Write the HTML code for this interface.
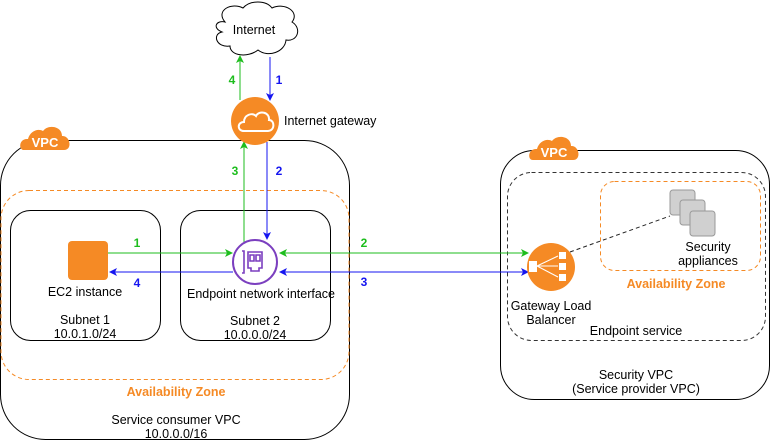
<!DOCTYPE html>
<html><head><meta charset="utf-8"><style>
html,body{margin:0;padding:0;background:#fff;}
svg{display:block;font-family:"Liberation Sans","DejaVu Sans",sans-serif;font-size:12.5px;}
</style></head><body>
<svg width="771" height="442" viewBox="0 0 771 442" xmlns="http://www.w3.org/2000/svg">
<defs>
<marker id="ag" markerWidth="8" markerHeight="8" refX="7" refY="4" orient="auto" markerUnits="userSpaceOnUse"><path d="M0,0 L8,4 L0,8 L2,4 z" fill="#1dbd1d"/></marker>
<marker id="ab" markerWidth="8" markerHeight="8" refX="7" refY="4" orient="auto" markerUnits="userSpaceOnUse"><path d="M0,0 L8,4 L0,8 L2,4 z" fill="#1515f0"/></marker>
</defs>

<path d="M225,22 C215,10 232,2 243,8 C250,0 266,0 272,8 C285,2 300,12 292,22 C302,28 298,42 286,40 C285,52 268,58 258,50 C248,58 230,56 230,46 C216,48 212,34 222,32 C212,28 216,20 225,22 z" fill="#fff" stroke="#000" stroke-width="1"/>
<text x="254" y="34" text-anchor="middle">Internet</text>

<rect x="0.5" y="140.5" width="349" height="299" rx="45" fill="none" stroke="#000"/>
<rect x="1" y="190.5" width="348" height="189" rx="28" fill="none" stroke="#f58a25" stroke-dasharray="4,3"/>
<rect x="10.5" y="210.5" width="150" height="130" rx="20" fill="none" stroke="#000"/>
<rect x="180.5" y="210.5" width="150" height="130" rx="20" fill="none" stroke="#000"/>

<rect x="500.5" y="150.5" width="269" height="249" rx="34" fill="#fff" stroke="#000"/>
<rect x="507.5" y="172.5" width="258" height="168" rx="24" fill="none" stroke="#333" stroke-dasharray="4,3"/>
<rect x="600.5" y="181.5" width="160" height="89" rx="14" fill="none" stroke="#f58a25" stroke-dasharray="4,3"/>

<g fill="#f58a25">
<path d="M24,150 C18,150 19,138 28,139 C30,131 38,128 43,131 C48,124 62,126 62,136 C70,135 73,150 64,150 z"/>
<path d="M533,160 C527,160 528,148 537,149 C539,141 547,138 552,141 C557,134 571,136 571,146 C579,145 582,160 573,160 z"/>
</g>
<text x="45" y="147" text-anchor="middle" fill="#fff" font-weight="bold" font-size="13">VPC</text>
<text x="554" y="157" text-anchor="middle" fill="#fff" font-weight="bold" font-size="13">VPC</text>

<line x1="240" y1="100" x2="240" y2="56" stroke="#1dbd1d" marker-end="url(#ag)"/>
<line x1="270" y1="57" x2="270" y2="100" stroke="#1515f0" marker-end="url(#ab)"/>
<line x1="244" y1="244" x2="244" y2="142" stroke="#1dbd1d" marker-end="url(#ag)"/>
<line x1="267" y1="142" x2="267" y2="239" stroke="#1515f0" marker-end="url(#ab)"/>
<line x1="108" y1="253" x2="232" y2="253" stroke="#1dbd1d" marker-end="url(#ag)"/>
<line x1="233" y1="272" x2="110" y2="272" stroke="#1515f0" marker-end="url(#ab)"/>
<line x1="400" y1="253" x2="280" y2="253" stroke="#1dbd1d" marker-end="url(#ag)"/>
<line x1="400" y1="253" x2="528" y2="253" stroke="#1dbd1d" marker-end="url(#ag)"/>
<line x1="400" y1="272" x2="280" y2="272" stroke="#1515f0" marker-end="url(#ab)"/>
<line x1="400" y1="272" x2="528" y2="272" stroke="#1515f0" marker-end="url(#ab)"/>
<line x1="570" y1="252" x2="670" y2="216" stroke="#222" stroke-dasharray="4,3"/>

<g font-weight="bold" font-size="12">
<text x="232" y="84" fill="#1dbd1d" text-anchor="middle">4</text>
<text x="279" y="84" fill="#1515f0" text-anchor="middle">1</text>
<text x="235" y="175" fill="#1dbd1d" text-anchor="middle">3</text>
<text x="279" y="175" fill="#1515f0" text-anchor="middle">2</text>
<text x="137" y="247" fill="#1dbd1d" text-anchor="middle">1</text>
<text x="137" y="287" fill="#1515f0" text-anchor="middle">4</text>
<text x="364" y="247" fill="#1dbd1d" text-anchor="middle">2</text>
<text x="364" y="286" fill="#1515f0" text-anchor="middle">3</text>
</g>

<circle cx="255" cy="121" r="24" fill="#f58a25"/>
<path d="M244,131 C237,131 237,122 244,122 C244,115 252,112 256,116 C259,110 270,112 269,120 C275,120 275,131 268,131 z" fill="none" stroke="#fff" stroke-width="2"/>
<text x="284" y="125">Internet gateway</text>

<rect x="68" y="241" width="40" height="39" rx="4" fill="#f58a25"/>
<text x="85" y="296" text-anchor="middle">EC2 instance</text>

<circle cx="255" cy="262" r="22" fill="#fff" stroke="#7b3fbf" stroke-width="2"/>
<path d="M242,251 h2 v22 h-2 M248,252 h14 v16 h-3 v3 h-8 v-3 h-3 z M250,255 h4 v6 h-4 z M256,255 h4 v6 h-4 z" fill="none" stroke="#7b3fbf" stroke-width="1.6"/>
<text x="261" y="298" text-anchor="middle">Endpoint network interface</text>

<text x="85" y="324" text-anchor="middle">Subnet 1</text>
<text x="85" y="338" text-anchor="middle">10.0.1.0/24</text>
<text x="255" y="325" text-anchor="middle">Subnet 2</text>
<text x="255" y="339" text-anchor="middle">10.0.0.0/24</text>
<text x="176" y="396" text-anchor="middle" fill="#f58a25" font-weight="bold">Availability Zone</text>
<text x="176" y="424" text-anchor="middle">Service consumer VPC</text>
<text x="176" y="438" text-anchor="middle">10.0.0.0/16</text>

<circle cx="551" cy="267" r="24" fill="#f58a25"/>
<g fill="#fff" stroke="#fff">
<rect x="529" y="261" width="8" height="11" stroke="none"/>
<rect x="559" y="252" width="7" height="7" stroke="none"/>
<rect x="559" y="263" width="7" height="7" stroke="none"/>
<rect x="559" y="274" width="7" height="7" stroke="none"/>
<line x1="537" y1="266" x2="558" y2="256"/>
<line x1="537" y1="266" x2="558" y2="266"/>
<line x1="537" y1="266" x2="558" y2="277"/>
</g>
<text x="551" y="310" text-anchor="middle">Gateway Load</text>
<text x="551" y="324" text-anchor="middle">Balancer</text>
<text x="636" y="335" text-anchor="middle">Endpoint service</text>

<g stroke="#999" stroke-width="1">
<rect x="670" y="190" width="25" height="25" rx="3" fill="#d0d0d0"/>
<rect x="680" y="200" width="25" height="25" rx="3" fill="#d0d0d0"/>
<rect x="690" y="211" width="25" height="25" rx="3" fill="#d0d0d0"/>
</g>
<text x="708" y="251" text-anchor="middle">Security</text>
<text x="708" y="265" text-anchor="middle">appliances</text>
<text x="676" y="288" text-anchor="middle" fill="#f58a25" font-weight="bold">Availability Zone</text>
<text x="636" y="379" text-anchor="middle">Security VPC</text>
<text x="636" y="393" text-anchor="middle">(Service provider VPC)</text>
</svg>
</body></html>
